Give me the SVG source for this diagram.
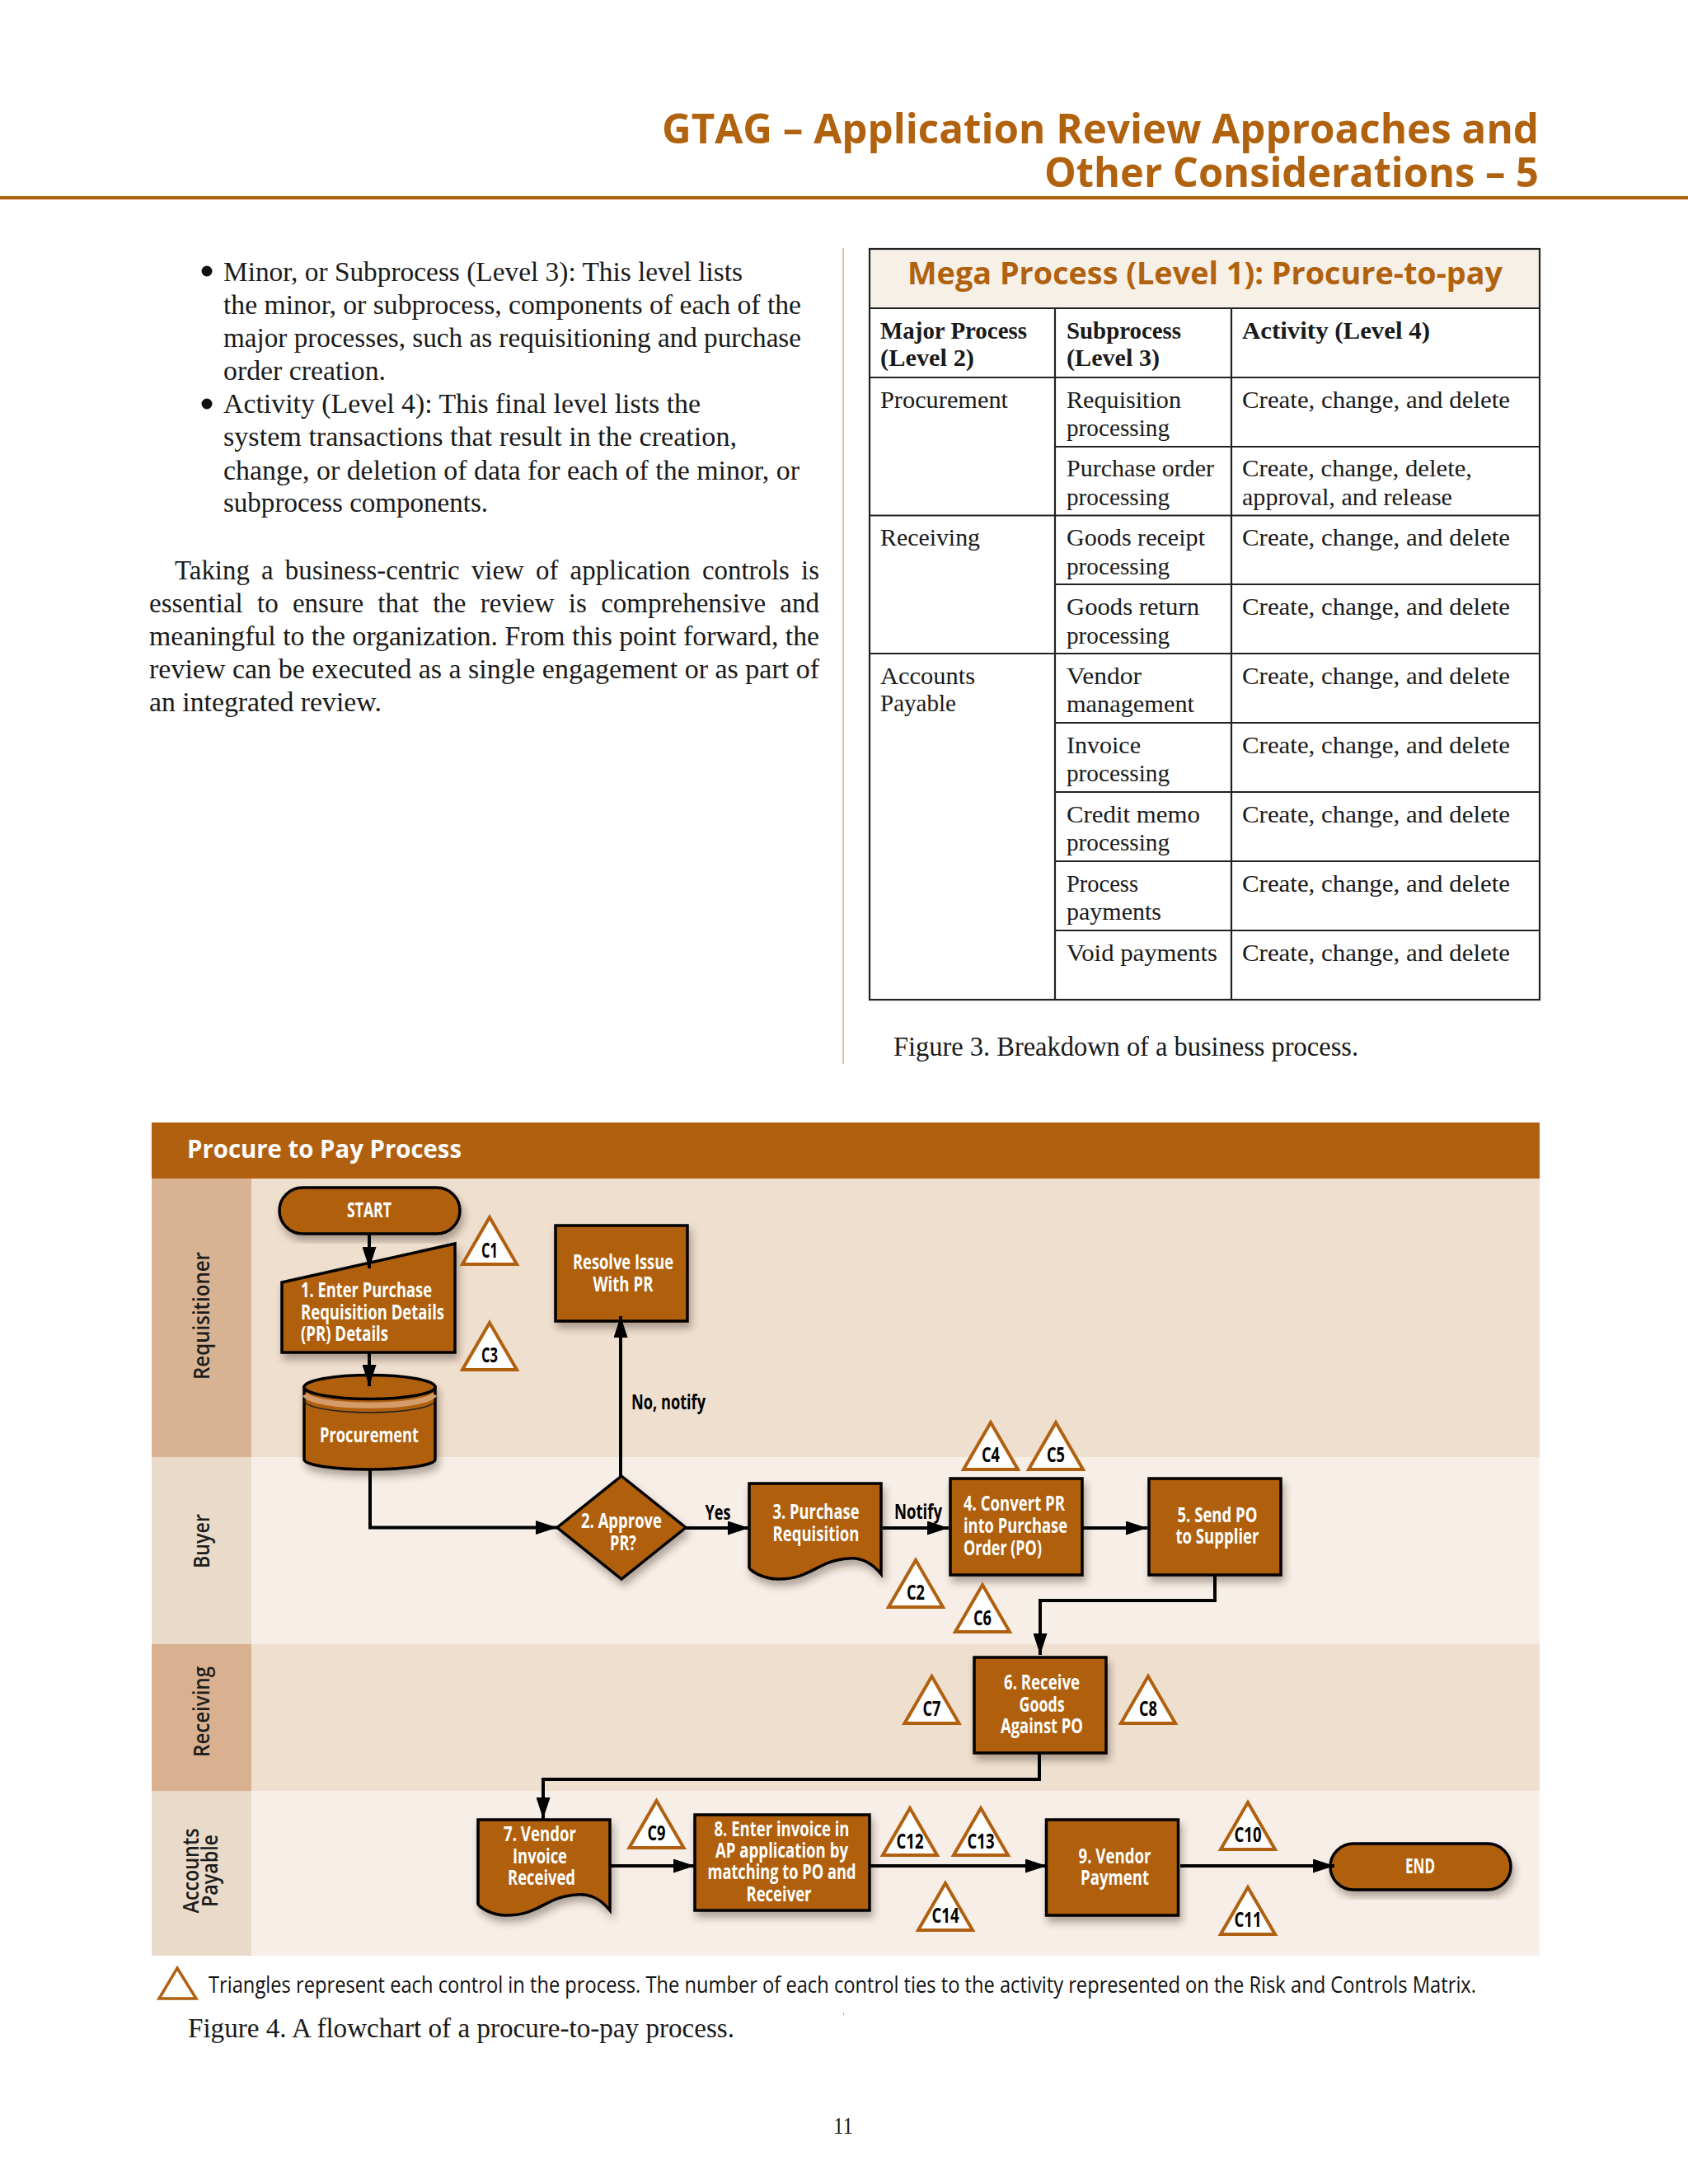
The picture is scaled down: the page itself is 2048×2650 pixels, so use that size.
<svg xmlns="http://www.w3.org/2000/svg" width="2048" height="2650" viewBox="0 0 2048 2650">
<style>
.s{font-family:"Liberation Serif","Times New Roman",serif;fill:#1a1a1a}
.b{font-size:33px}
.c{font-size:30px}
.h{font-weight:bold}
.n{font-family:"Open Sans","Noto Sans",sans-serif;font-weight:700;font-size:25px;fill:#fff;text-anchor:middle}
.nl{text-anchor:start}
.k{font-family:"Open Sans","Noto Sans",sans-serif;font-weight:700;font-size:25px;fill:#000;text-anchor:middle}
.lane{font-family:"Open Sans","Noto Sans",sans-serif;font-weight:600;font-size:27px;fill:#1c1c1c;text-anchor:middle}
.ttl{font-family:"Open Sans","Noto Sans",sans-serif;font-weight:700;font-size:50px;fill:#b0620f;text-anchor:end}
.shape{fill:#b0600f;stroke:#000;stroke-width:3.5;stroke-linejoin:miter}
.tri{fill:#fff;stroke:#b0600f;stroke-width:4}
.cell{stroke:#222;stroke-width:2.2;fill:none}
.wire{fill:none;stroke:#000;stroke-width:4;stroke-linejoin:miter}
.arrow{marker-end:url(#head)}
</style>
<defs>
<marker id="head" markerUnits="userSpaceOnUse" markerWidth="26" markerHeight="17" refX="26" refY="8.5" orient="auto"><path d="M0,0 L26,8.5 L0,17 Z" fill="#000"/></marker>
<filter id="sh" x="-15%" y="-15%" width="130%" height="135%"><feDropShadow dx="3" dy="7" stdDeviation="5" flood-color="#3a2a1a" flood-opacity="0.38"/></filter>
<polygon id="t" class="tri" points="0,2 33,59 -33,59"/>
</defs>
<rect width="2048" height="2650" fill="#fff"/>

<g id="page-header">
<text class="ttl" x="1867" y="174" textLength="1064" lengthAdjust="spacingAndGlyphs">GTAG – Application Review Approaches and</text>
<text class="ttl" x="1867" y="227" textLength="600" lengthAdjust="spacingAndGlyphs">Other Considerations – 5</text>
<rect x="0" y="238" width="2048" height="4" fill="#b0600f"/>
</g>

<g id="left-column">
<circle cx="251" cy="329" r="6.5" fill="#111"/>
<circle cx="251" cy="490" r="6.5" fill="#111"/>
<text class="s b" x="271" y="341" textLength="630" lengthAdjust="spacingAndGlyphs">Minor, or Subprocess (Level 3): This level lists</text>
<text class="s b" x="271" y="381" textLength="701" lengthAdjust="spacingAndGlyphs">the minor, or subprocess, components of each of the</text>
<text class="s b" x="271" y="421" textLength="701" lengthAdjust="spacingAndGlyphs">major processes, such as requisitioning and purchase</text>
<text class="s b" x="271" y="461" textLength="197" lengthAdjust="spacingAndGlyphs">order creation.</text>
<text class="s b" x="271" y="501" textLength="579" lengthAdjust="spacingAndGlyphs">Activity (Level 4): This final level lists the</text>
<text class="s b" x="271" y="541" textLength="623" lengthAdjust="spacingAndGlyphs">system transactions that result in the creation,</text>
<text class="s b" x="271" y="581.5" textLength="699" lengthAdjust="spacingAndGlyphs">change, or deletion of data for each of the minor, or</text>
<text class="s b" x="271" y="621" textLength="321" lengthAdjust="spacingAndGlyphs">subprocess components.</text>
<text class="s b" x="212" y="703" word-spacing="6" textLength="782" lengthAdjust="spacingAndGlyphs">Taking a business-centric view of application controls is</text>
<text class="s b" x="181" y="743" word-spacing="9" textLength="813" lengthAdjust="spacingAndGlyphs">essential to ensure that the review is comprehensive and</text>
<text class="s b" x="181" y="783" textLength="813" lengthAdjust="spacingAndGlyphs">meaningful to the organization. From this point forward, the</text>
<text class="s b" x="181" y="823" textLength="813" lengthAdjust="spacingAndGlyphs">review can be executed as a single engagement or as part of</text>
<text class="s b" x="181" y="863" textLength="282" lengthAdjust="spacingAndGlyphs">an integrated review.</text>
</g>

<rect id="column-rule" x="1022" y="301" width="2" height="990" fill="#d9bfa6"/>

<g id="table">
<rect x="1055" y="302" width="813" height="72" fill="#f6f0e7"/>
<rect class="cell" x="1055" y="302" width="813" height="911" stroke-width="2.6"/>
<path class="cell" d="M1055,374H1868M1055,458H1868M1280,542H1868M1055,625.5H1868M1280,709H1868M1055,793H1868M1280,877H1868M1280,961H1868M1280,1045H1868M1280,1129H1868M1280,374V1213M1494,374V1213"/>
<text x="1101" y="345" textLength="722" lengthAdjust="spacingAndGlyphs" style="font-family:'Open Sans','Noto Sans',sans-serif;font-weight:700;font-size:38px;fill:#b0620f">Mega Process (Level 1): Procure-to-pay</text>
<text class="s c h" x="1068" y="411" textLength="178" lengthAdjust="spacingAndGlyphs">Major Process</text>
<text class="s c h" x="1068" y="444" textLength="114" lengthAdjust="spacingAndGlyphs">(Level 2)</text>
<text class="s c h" x="1294" y="411" textLength="139" lengthAdjust="spacingAndGlyphs">Subprocess</text>
<text class="s c h" x="1294" y="444" textLength="113" lengthAdjust="spacingAndGlyphs">(Level 3)</text>
<text class="s c h" x="1507" y="411" textLength="228" lengthAdjust="spacingAndGlyphs">Activity (Level 4)</text>

<text class="s c" x="1068" y="494.5" textLength="155" lengthAdjust="spacingAndGlyphs">Procurement</text>
<text class="s c" x="1068" y="662" textLength="121" lengthAdjust="spacingAndGlyphs">Receiving</text>
<text class="s c" x="1068" y="829.5" textLength="115" lengthAdjust="spacingAndGlyphs">Accounts</text>
<text class="s c" x="1068" y="863" textLength="92" lengthAdjust="spacingAndGlyphs">Payable</text>

<text class="s c" x="1294" y="494.5" textLength="139" lengthAdjust="spacingAndGlyphs">Requisition</text>
<text class="s c" x="1294" y="529" textLength="125" lengthAdjust="spacingAndGlyphs">processing</text>
<text class="s c" x="1294" y="578" textLength="179" lengthAdjust="spacingAndGlyphs">Purchase order</text>
<text class="s c" x="1294" y="612.5" textLength="125" lengthAdjust="spacingAndGlyphs">processing</text>
<text class="s c" x="1294" y="662" textLength="168" lengthAdjust="spacingAndGlyphs">Goods receipt</text>
<text class="s c" x="1294" y="696.5" textLength="125" lengthAdjust="spacingAndGlyphs">processing</text>
<text class="s c" x="1294" y="746" textLength="161" lengthAdjust="spacingAndGlyphs">Goods return</text>
<text class="s c" x="1294" y="780.5" textLength="125" lengthAdjust="spacingAndGlyphs">processing</text>
<text class="s c" x="1294" y="829.5" textLength="91" lengthAdjust="spacingAndGlyphs">Vendor</text>
<text class="s c" x="1294" y="864" textLength="155" lengthAdjust="spacingAndGlyphs">management</text>
<text class="s c" x="1294" y="913.5" textLength="90" lengthAdjust="spacingAndGlyphs">Invoice</text>
<text class="s c" x="1294" y="948" textLength="125" lengthAdjust="spacingAndGlyphs">processing</text>
<text class="s c" x="1294" y="997.5" textLength="162" lengthAdjust="spacingAndGlyphs">Credit memo</text>
<text class="s c" x="1294" y="1032" textLength="125" lengthAdjust="spacingAndGlyphs">processing</text>
<text class="s c" x="1294" y="1081.5" textLength="87" lengthAdjust="spacingAndGlyphs">Process</text>
<text class="s c" x="1294" y="1116" textLength="115" lengthAdjust="spacingAndGlyphs">payments</text>
<text class="s c" x="1294" y="1165.5" textLength="183" lengthAdjust="spacingAndGlyphs">Void payments</text>

<text class="s c" x="1507" y="494.5" textLength="325" lengthAdjust="spacingAndGlyphs">Create, change, and delete</text>
<text class="s c" x="1507" y="578" textLength="279" lengthAdjust="spacingAndGlyphs">Create, change, delete,</text>
<text class="s c" x="1507" y="612.5" textLength="255" lengthAdjust="spacingAndGlyphs">approval, and release</text>
<text class="s c" x="1507" y="662" textLength="325" lengthAdjust="spacingAndGlyphs">Create, change, and delete</text>
<text class="s c" x="1507" y="746" textLength="325" lengthAdjust="spacingAndGlyphs">Create, change, and delete</text>
<text class="s c" x="1507" y="829.5" textLength="325" lengthAdjust="spacingAndGlyphs">Create, change, and delete</text>
<text class="s c" x="1507" y="913.5" textLength="325" lengthAdjust="spacingAndGlyphs">Create, change, and delete</text>
<text class="s c" x="1507" y="997.5" textLength="325" lengthAdjust="spacingAndGlyphs">Create, change, and delete</text>
<text class="s c" x="1507" y="1081.5" textLength="325" lengthAdjust="spacingAndGlyphs">Create, change, and delete</text>
<text class="s c" x="1507" y="1165.5" textLength="325" lengthAdjust="spacingAndGlyphs">Create, change, and delete</text>
</g>
<text class="s b" x="1084" y="1281" textLength="564" lengthAdjust="spacingAndGlyphs">Figure 3. Breakdown of a business process.</text>

<g id="swimlanes">
<rect x="184" y="1362" width="1684" height="68" fill="#b0600f"/>
<rect x="184" y="1430" width="1684" height="338" fill="#efdfcf"/>
<rect x="184" y="1768" width="1684" height="227" fill="#f7efe7"/>
<rect x="184" y="1995" width="1684" height="178" fill="#efdfcf"/>
<rect x="184" y="2173" width="1684" height="200" fill="#f7efe7"/>
<rect x="184" y="1430" width="121" height="338" fill="#d7b394"/>
<rect x="184" y="1768" width="121" height="227" fill="#e9dac9"/>
<rect x="184" y="1995" width="121" height="178" fill="#d9b190"/>
<rect x="184" y="2173" width="121" height="200" fill="#e9dac9"/>
<text x="227" y="1405" textLength="333" lengthAdjust="spacingAndGlyphs" style="font-family:'Open Sans','Noto Sans',sans-serif;font-weight:700;font-size:31px;fill:#fff">Procure to Pay Process</text>
<text class="lane" transform="rotate(-90 254 1596.5)" x="254" y="1596.5" textLength="155" lengthAdjust="spacingAndGlyphs">Requisitioner</text>
<text class="lane" transform="rotate(-90 254 1870)" x="254" y="1870" textLength="66" lengthAdjust="spacingAndGlyphs">Buyer</text>
<text class="lane" transform="rotate(-90 254 2077)" x="254" y="2077" textLength="110" lengthAdjust="spacingAndGlyphs">Receiving</text>
<text class="lane" transform="rotate(-90 241 2270)" x="241" y="2270" textLength="103" lengthAdjust="spacingAndGlyphs">Accounts</text>
<text class="lane" transform="rotate(-90 264 2270)" x="264" y="2270" textLength="88" lengthAdjust="spacingAndGlyphs">Payable</text>
</g>

<g id="node-start"><rect class="shape" filter="url(#sh)" x="339" y="1441" width="219" height="56" rx="28"/><text class="n" x="448" y="1477" textLength="54" lengthAdjust="spacingAndGlyphs">START</text></g>
<g id="node-1"><polygon class="shape" filter="url(#sh)" points="342,1556 552,1509 552,1641 342,1641"/><text class="n nl" x="365" y="1574" textLength="159" lengthAdjust="spacingAndGlyphs">1. Enter Purchase</text><text class="n nl" x="365" y="1601" textLength="174" lengthAdjust="spacingAndGlyphs">Requisition Details</text><text class="n nl" x="365" y="1627" textLength="106" lengthAdjust="spacingAndGlyphs">(PR) Details</text></g>
<g id="node-procurement"><g filter="url(#sh)"><path class="shape" d="M369,1683V1771A79.5,12 0 0 0 528,1771V1683Z"/><path d="M370,1692A79,15 0 0 0 527,1692" fill="none" stroke="#d39c6b" stroke-width="7"/><path d="M369,1699A79.5,15 0 0 0 528,1699" fill="none" stroke="#222" stroke-width="1.5"/><ellipse class="shape" cx="448.5" cy="1683" rx="79.5" ry="14.5"/></g><text class="n" x="448" y="1750" textLength="120" lengthAdjust="spacingAndGlyphs">Procurement</text></g>
<g id="node-resolve"><rect class="shape" filter="url(#sh)" x="674" y="1487" width="160" height="116"/><text class="n" x="756" y="1540" textLength="122" lengthAdjust="spacingAndGlyphs">Resolve Issue</text><text class="n" x="756" y="1567" textLength="73" lengthAdjust="spacingAndGlyphs">With PR</text></g>
<g id="node-2"><polygon class="shape" filter="url(#sh)" points="754,1791 832,1853.5 754,1916 676,1853.5"/><text class="n" x="754" y="1854" textLength="98" lengthAdjust="spacingAndGlyphs">2. Approve</text><text class="n" x="756" y="1881" textLength="32" lengthAdjust="spacingAndGlyphs">PR?</text></g>
<g id="node-3"><path class="shape" filter="url(#sh)" d="M909,1800H1069V1910C1055,1893 1042,1890 1030,1891C992,1893 985,1916 944,1916C925,1916 909,1905 909,1902Z"/><text class="n" x="990" y="1843" textLength="105" lengthAdjust="spacingAndGlyphs">3. Purchase</text><text class="n" x="990" y="1870" textLength="105" lengthAdjust="spacingAndGlyphs">Requisition</text></g>
<g id="node-4"><rect class="shape" filter="url(#sh)" x="1153" y="1794" width="160" height="117"/><text class="n nl" x="1169" y="1833" textLength="123" lengthAdjust="spacingAndGlyphs">4. Convert PR</text><text class="n nl" x="1169" y="1860" textLength="126" lengthAdjust="spacingAndGlyphs">into Purchase</text><text class="n nl" x="1169" y="1887" textLength="95" lengthAdjust="spacingAndGlyphs">Order (PO)</text></g>
<g id="node-5"><rect class="shape" filter="url(#sh)" x="1394" y="1794" width="160" height="117"/><text class="n" x="1477" y="1847" textLength="97" lengthAdjust="spacingAndGlyphs">5. Send PO</text><text class="n" x="1477" y="1873" textLength="101" lengthAdjust="spacingAndGlyphs">to Supplier</text></g>
<g id="node-6"><rect class="shape" filter="url(#sh)" x="1182" y="2011" width="160" height="116"/><text class="n" x="1264" y="2050" textLength="92" lengthAdjust="spacingAndGlyphs">6. Receive</text><text class="n" x="1264" y="2077" textLength="55" lengthAdjust="spacingAndGlyphs">Goods</text><text class="n" x="1264" y="2103" textLength="100" lengthAdjust="spacingAndGlyphs">Against PO</text></g>
<g id="node-7"><path class="shape" filter="url(#sh)" d="M580,2208H740V2318C726,2301 713,2298 700,2299C662,2301 655,2324 614,2324C595,2324 580,2313 580,2310Z"/><text class="n" x="655" y="2234" textLength="88" lengthAdjust="spacingAndGlyphs">7. Vendor</text><text class="n" x="655" y="2261" textLength="66" lengthAdjust="spacingAndGlyphs">Invoice</text><text class="n" x="657" y="2287" textLength="82" lengthAdjust="spacingAndGlyphs">Received</text></g>
<g id="node-8"><rect class="shape" filter="url(#sh)" x="843" y="2202" width="212" height="116"/><text class="n" x="948.5" y="2228" textLength="164" lengthAdjust="spacingAndGlyphs">8. Enter invoice in</text><text class="n" x="948.5" y="2254" textLength="161" lengthAdjust="spacingAndGlyphs">AP application by</text><text class="n" x="948.5" y="2280" textLength="180" lengthAdjust="spacingAndGlyphs">matching to PO and</text><text class="n" x="945" y="2307" textLength="79" lengthAdjust="spacingAndGlyphs">Receiver</text></g>
<g id="node-9"><rect class="shape" filter="url(#sh)" x="1269.5" y="2208" width="160" height="116"/><text class="n" x="1352.5" y="2261" textLength="88" lengthAdjust="spacingAndGlyphs">9. Vendor</text><text class="n" x="1352.5" y="2287" textLength="83" lengthAdjust="spacingAndGlyphs">Payment</text></g>
<g id="node-end"><rect class="shape" filter="url(#sh)" x="1614" y="2237" width="219" height="56" rx="28"/><text class="n" x="1723" y="2273" textLength="36" lengthAdjust="spacingAndGlyphs">END</text></g>

<g id="controls">
<g id="c1"><use href="#t" x="594" y="1475"/><text class="k" x="594" y="1526" textLength="20" lengthAdjust="spacingAndGlyphs">C1</text></g>
<g id="c3"><use href="#t" x="594" y="1603"/><text class="k" x="594" y="1653" textLength="20" lengthAdjust="spacingAndGlyphs">C3</text></g>
<g id="c4"><use href="#t" x="1202" y="1724"/><text class="k" x="1202" y="1774" textLength="22" lengthAdjust="spacingAndGlyphs">C4</text></g>
<g id="c5"><use href="#t" x="1281" y="1724"/><text class="k" x="1281" y="1774" textLength="22" lengthAdjust="spacingAndGlyphs">C5</text></g>
<g id="c2"><use href="#t" x="1111" y="1891"/><text class="k" x="1111" y="1941" textLength="22" lengthAdjust="spacingAndGlyphs">C2</text></g>
<g id="c6"><use href="#t" x="1192" y="1921"/><text class="k" x="1192" y="1972" textLength="22" lengthAdjust="spacingAndGlyphs">C6</text></g>
<g id="c7"><use href="#t" x="1130.5" y="2032"/><text class="k" x="1130.5" y="2082" textLength="22" lengthAdjust="spacingAndGlyphs">C7</text></g>
<g id="c8"><use href="#t" x="1393" y="2032"/><text class="k" x="1393" y="2082" textLength="22" lengthAdjust="spacingAndGlyphs">C8</text></g>
<g id="c9"><use href="#t" x="796.5" y="2183"/><text class="k" x="796.5" y="2233" textLength="22" lengthAdjust="spacingAndGlyphs">C9</text></g>
<g id="c12"><use href="#t" x="1104" y="2192"/><text class="k" x="1104" y="2243" textLength="33" lengthAdjust="spacingAndGlyphs">C12</text></g>
<g id="c13"><use href="#t" x="1190" y="2192"/><text class="k" x="1190" y="2243" textLength="33" lengthAdjust="spacingAndGlyphs">C13</text></g>
<g id="c14"><use href="#t" x="1147" y="2283"/><text class="k" x="1147" y="2333" textLength="33" lengthAdjust="spacingAndGlyphs">C14</text></g>
<g id="c10"><use href="#t" x="1514" y="2185"/><text class="k" x="1514" y="2235" textLength="33" lengthAdjust="spacingAndGlyphs">C10</text></g>
<g id="c11"><use href="#t" x="1514" y="2288"/><text class="k" x="1514" y="2338" textLength="33" lengthAdjust="spacingAndGlyphs">C11</text></g>
</g>

<g id="connectors">
<path class="wire arrow" d="M448,1498V1539"/>
<path class="wire arrow" d="M448,1642V1682"/>
<path class="wire arrow" d="M449,1784V1853.5H676"/>
<path class="wire arrow" d="M753,1791V1597"/>
<path class="wire arrow" d="M832,1854H909"/>
<path class="wire arrow" d="M1071,1854H1151"/>
<path class="wire arrow" d="M1314,1854H1392"/>
<path class="wire arrow" d="M1474,1912V1942H1262V2008"/>
<path class="wire arrow" d="M1261,2128V2159H659V2207"/>
<path class="wire arrow" d="M741,2264H843"/>
<path class="wire arrow" d="M1056,2264H1270"/>
<path class="wire arrow" d="M1432,2264H1619"/>
<text class="k" x="811" y="1710" textLength="90" lengthAdjust="spacingAndGlyphs">No, notify</text>
<text class="k" x="871" y="1844" textLength="31" lengthAdjust="spacingAndGlyphs">Yes</text>
<text class="k" x="1114" y="1843" textLength="58" lengthAdjust="spacingAndGlyphs">Notify</text>
</g>

<g id="legend">
<polygon points="215,2388 238,2425 193,2425" fill="#fff" stroke="#b0600f" stroke-width="3.5"/>
<text x="253" y="2418" textLength="1538" lengthAdjust="spacingAndGlyphs" style="font-family:'Open Sans','Noto Sans',sans-serif;font-size:27px;fill:#111">Triangles represent each control in the process. The number of each control ties to the activity represented on the Risk and Controls Matrix.</text>
</g>
<text class="s b" x="228" y="2472" textLength="663" lengthAdjust="spacingAndGlyphs">Figure 4. A flowchart of a procure-to-pay process.</text>
<rect x="1023" y="2442" width="1" height="3" fill="#aaa"/>
<text class="s c" x="1023" y="2589" text-anchor="middle" textLength="24" lengthAdjust="spacingAndGlyphs">11</text>
</svg>
